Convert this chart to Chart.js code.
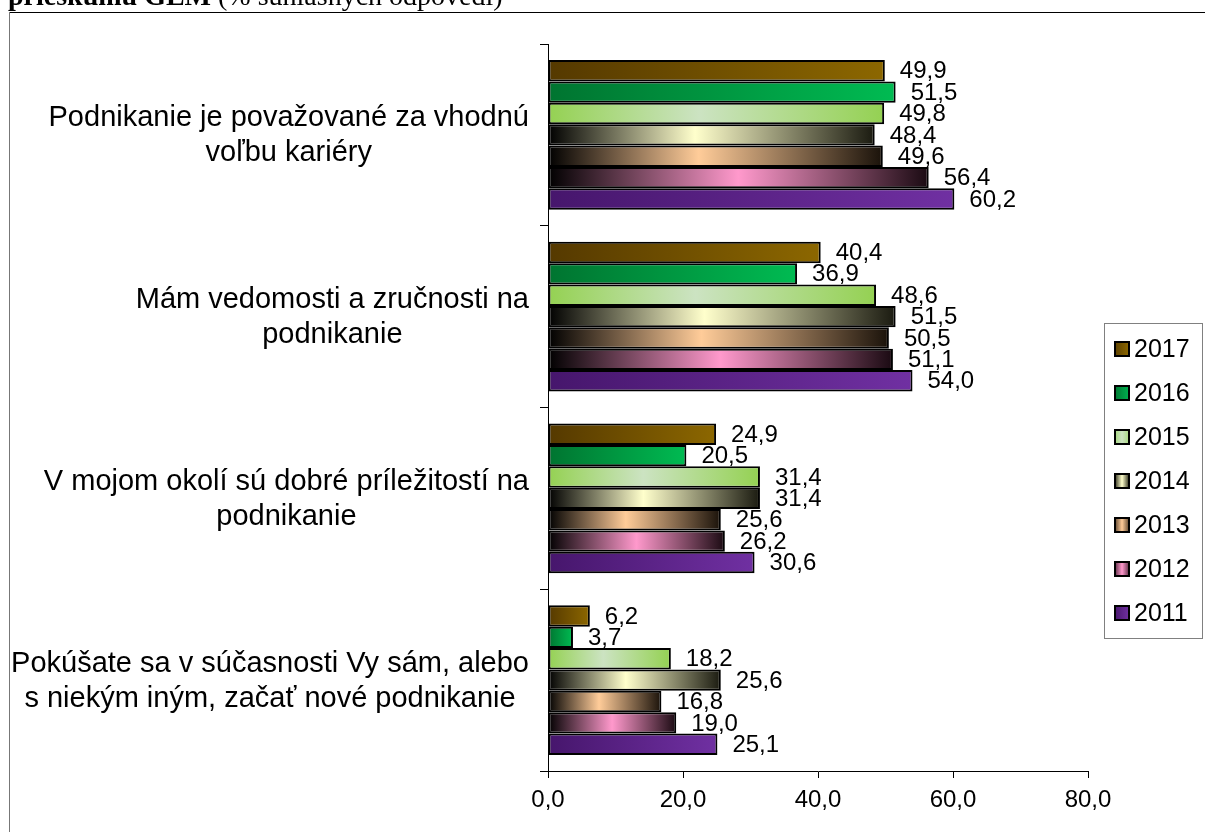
<!DOCTYPE html>
<html>
<head>
<meta charset="utf-8">
<script src="https://cdn.jsdelivr.net/npm/chart.js@4/dist/chart.umd.min.js"></script>
<style>
    body { margin: 0; background: #fff; }
    canvas { display: block; }
</style>
</head>
<body>
<canvas id="gemChart" width="1205" height="832"></canvas>
<script>
const categories = [
    ['Podnikanie je považované za vhodnú', 'voľbu kariéry'],
    ['Mám vedomosti a zručnosti na', 'podnikanie'],
    ['V mojom okolí sú dobré príležitostí na', 'podnikanie'],
    ['Pokúšate sa v súčasnosti Vy sám, alebo', 's niekým iným, začať nové podnikanie']
];
const years = ['2017', '2016', '2015', '2014', '2013', '2012', '2011'];
const v2017 = [49.9, 40.4, 24.9, 6.2];
const v2016 = [51.5, 36.9, 20.5, 3.7];
const v2015 = [49.8, 48.6, 31.4, 18.2];
const v2014 = [48.4, 51.5, 31.4, 25.6];
const v2013 = [49.6, 50.5, 25.6, 16.8];
const v2012 = [56.4, 51.1, 26.2, 19.0];
const v2011 = [60.2, 54.0, 30.6, 25.1];
const xTicks = [0, 20, 40, 60, 80];
const titleBold = 'prieskumu GEM ';
const titleRest = '(% súhlasných odpovedí)';

// gradient stops per year (left -> right along each bar)
const fills = [
    [[0, '#553900'], [1, '#8c6700']],
    [[0, '#007430'], [1, '#00bb52']],
    [[0, '#94d152'], [0.45, '#cce3c2'], [1, '#94d152']],
    [[0, '#000000'], [0.45, '#ffffcc'], [1, '#1a1a10']],
    [[0, '#000000'], [0.45, '#ffcc99'], [1, '#1a120a']],
    [[0, '#000000'], [0.5, '#ff99cc'], [1, '#1a0a12']],
    [[0, '#46166c'], [1, '#7030a2']]
];
const legendFills = [
    [[0, '#5e4200'], [1, '#8c6700']],
    [[0, '#007a33'], [1, '#00b050']],
    [[0, '#a8d880'], [0.5, '#cce3c2'], [1, '#a8d880']],
    [[0, '#333320'], [0.5, '#ffffcc'], [1, '#333320']],
    [[0, '#604830'], [0.5, '#ffcc99'], [1, '#604830']],
    [[0, '#603048'], [0.5, '#ff99cc'], [1, '#603048']],
    [[0, '#4a1870'], [1, '#7030a0']]
];
const allValues = [v2017, v2016, v2015, v2014, v2013, v2012, v2011];

const fmt = v => v.toFixed(1).replace('.', ',');

function barFill(stops) {
    return function (context) {
        const chart = context.chart;
        const xs = chart.scales.x;
        if (!xs || context.type !== 'data') return stops[stops.length - 1][1];
        const x0 = xs.getPixelForValue(0);
        const x1 = xs.getPixelForValue(context.raw);
        if (!isFinite(x0) || !isFinite(x1) || x1 - x0 < 1) return stops[stops.length - 1][1];
        const g = chart.ctx.createLinearGradient(x0, 0, x1, 0);
        stops.forEach(s => g.addColorStop(s[0], s[1]));
        return g;
    };
}

const pageDecor = {
    id: 'pageDecor',
    beforeDraw(chart) {
        const ctx = chart.ctx;
        ctx.save();
        ctx.fillStyle = '#fff';
        ctx.fillRect(0, 0, chart.width, chart.height);
        ctx.lineWidth = 1;
        ctx.strokeStyle = '#000';
        ctx.beginPath();
        ctx.moveTo(9, 12.5);
        ctx.lineTo(chart.width, 12.5);
        ctx.stroke();
        ctx.strokeStyle = '#777';
        ctx.beginPath();
        ctx.moveTo(9.5, 12);
        ctx.lineTo(9.5, chart.height);
        ctx.stroke();

        ctx.fillStyle = '#000';
        ctx.textBaseline = 'alphabetic';
        ctx.textAlign = 'left';
        ctx.font = 'bold 28px "Liberation Serif"';
        ctx.fillText(titleBold, 8, 5);
        const w = ctx.measureText(titleBold).width;
        ctx.font = '28px "Liberation Serif"';
        ctx.fillText(titleRest, 8 + w, 5);
        ctx.restore();
    },
    afterDatasetsDraw(chart) {
        const ctx = chart.ctx;
        ctx.save();
        ctx.fillStyle = '#000';
        ctx.font = '24px "Liberation Sans"';
        ctx.textAlign = 'left';
        ctx.textBaseline = 'middle';
        chart.data.datasets.forEach((ds, di) => {
            chart.getDatasetMeta(di).data.forEach((bar, i) => {
                ctx.fillText(fmt(ds.data[i]), bar.x + 15, bar.y + 1);
            });
        });

        // category labels, lines centred inside a right-aligned block
        const ys = chart.scales.y;
        ctx.font = '29px "Liberation Sans"';
        ctx.textAlign = 'center';
        const right = 529;
        const lineH = 35;
        categories.forEach((lines, i) => {
            const cy = ys.getPixelForValue(i);
            const blockW = Math.max(...lines.map(l => ctx.measureText(l).width));
            const cx = right - blockW / 2;
            lines.forEach((l, k) => {
                ctx.fillText(l, cx, cy + (k - (lines.length - 1) / 2) * lineH + 1);
            });
        });
        ctx.restore();
    },
    afterDraw(chart) {
        // legend
        const ctx = chart.ctx;
        ctx.save();
        const boxL = 1104, boxT = 323, boxR = 1202, boxB = 638;
        ctx.strokeStyle = '#808080';
        ctx.lineWidth = 1;
        ctx.strokeRect(boxL + 0.5, boxT + 0.5, boxR - boxL, boxB - boxT);
        ctx.font = '25px "Liberation Sans"';
        ctx.textAlign = 'left';
        ctx.textBaseline = 'middle';
        years.forEach((yr, i) => {
            const cy = 349 + i * 44;
            const g = ctx.createLinearGradient(1115, 0, 1129, 0);
            legendFills[i].forEach(s => g.addColorStop(s[0], s[1]));
            ctx.fillStyle = g;
            ctx.fillRect(1115, cy - 7, 14, 14);
            ctx.strokeStyle = '#000';
            ctx.lineWidth = 2;
            ctx.strokeRect(1115, cy - 7, 14, 14);
            ctx.fillStyle = '#000';
            ctx.fillText(yr, 1134, cy + 1);
        });
        ctx.restore();
    }
};

new Chart(document.getElementById('gemChart'), {
    type: 'bar',
    data: {
        labels: categories.map(c => c.join(' ')),
        datasets: years.map((yr, i) => ({
            label: yr,
            data: allValues[i],
            backgroundColor: barFill(fills[i]),
            borderColor: '#000',
            borderWidth: 2,
            borderSkipped: false,
            barPercentage: 1,
            categoryPercentage: 0.824
        }))
    },
    options: {
        indexAxis: 'y',
        responsive: false,
        animation: false,
        events: [],
        layout: { padding: { top: 44, right: 117, left: 0, bottom: 0 } },
        plugins: {
            legend: { display: false },
            tooltip: { enabled: false }
        },
        scales: {
            x: {
                type: 'linear',
                min: 0,
                max: 80,
                afterBuildTicks: scale => { scale.ticks = xTicks.map(v => ({ value: v })); },
                ticks: {
                    color: '#000',
                    font: { family: '"Liberation Sans"', size: 24 },
                    padding: 8,
                    maxRotation: 0,
                    callback: v => fmt(v)
                },
                grid: { drawOnChartArea: false, drawTicks: true, tickLength: 7, color: '#000' },
                border: { display: true, color: '#000', width: 1 },
                afterFit: scale => { scale.height = 61; }
            },
            y: {
                type: 'category',
                ticks: { display: false },
                grid: { drawOnChartArea: false, drawTicks: true, tickLength: 8, color: '#000', offset: true },
                border: { display: true, color: '#000', width: 1 },
                afterFit: scale => { scale.width = 548; }
            }
        }
    },
    plugins: [pageDecor]
});
</script>
</body>
</html>
